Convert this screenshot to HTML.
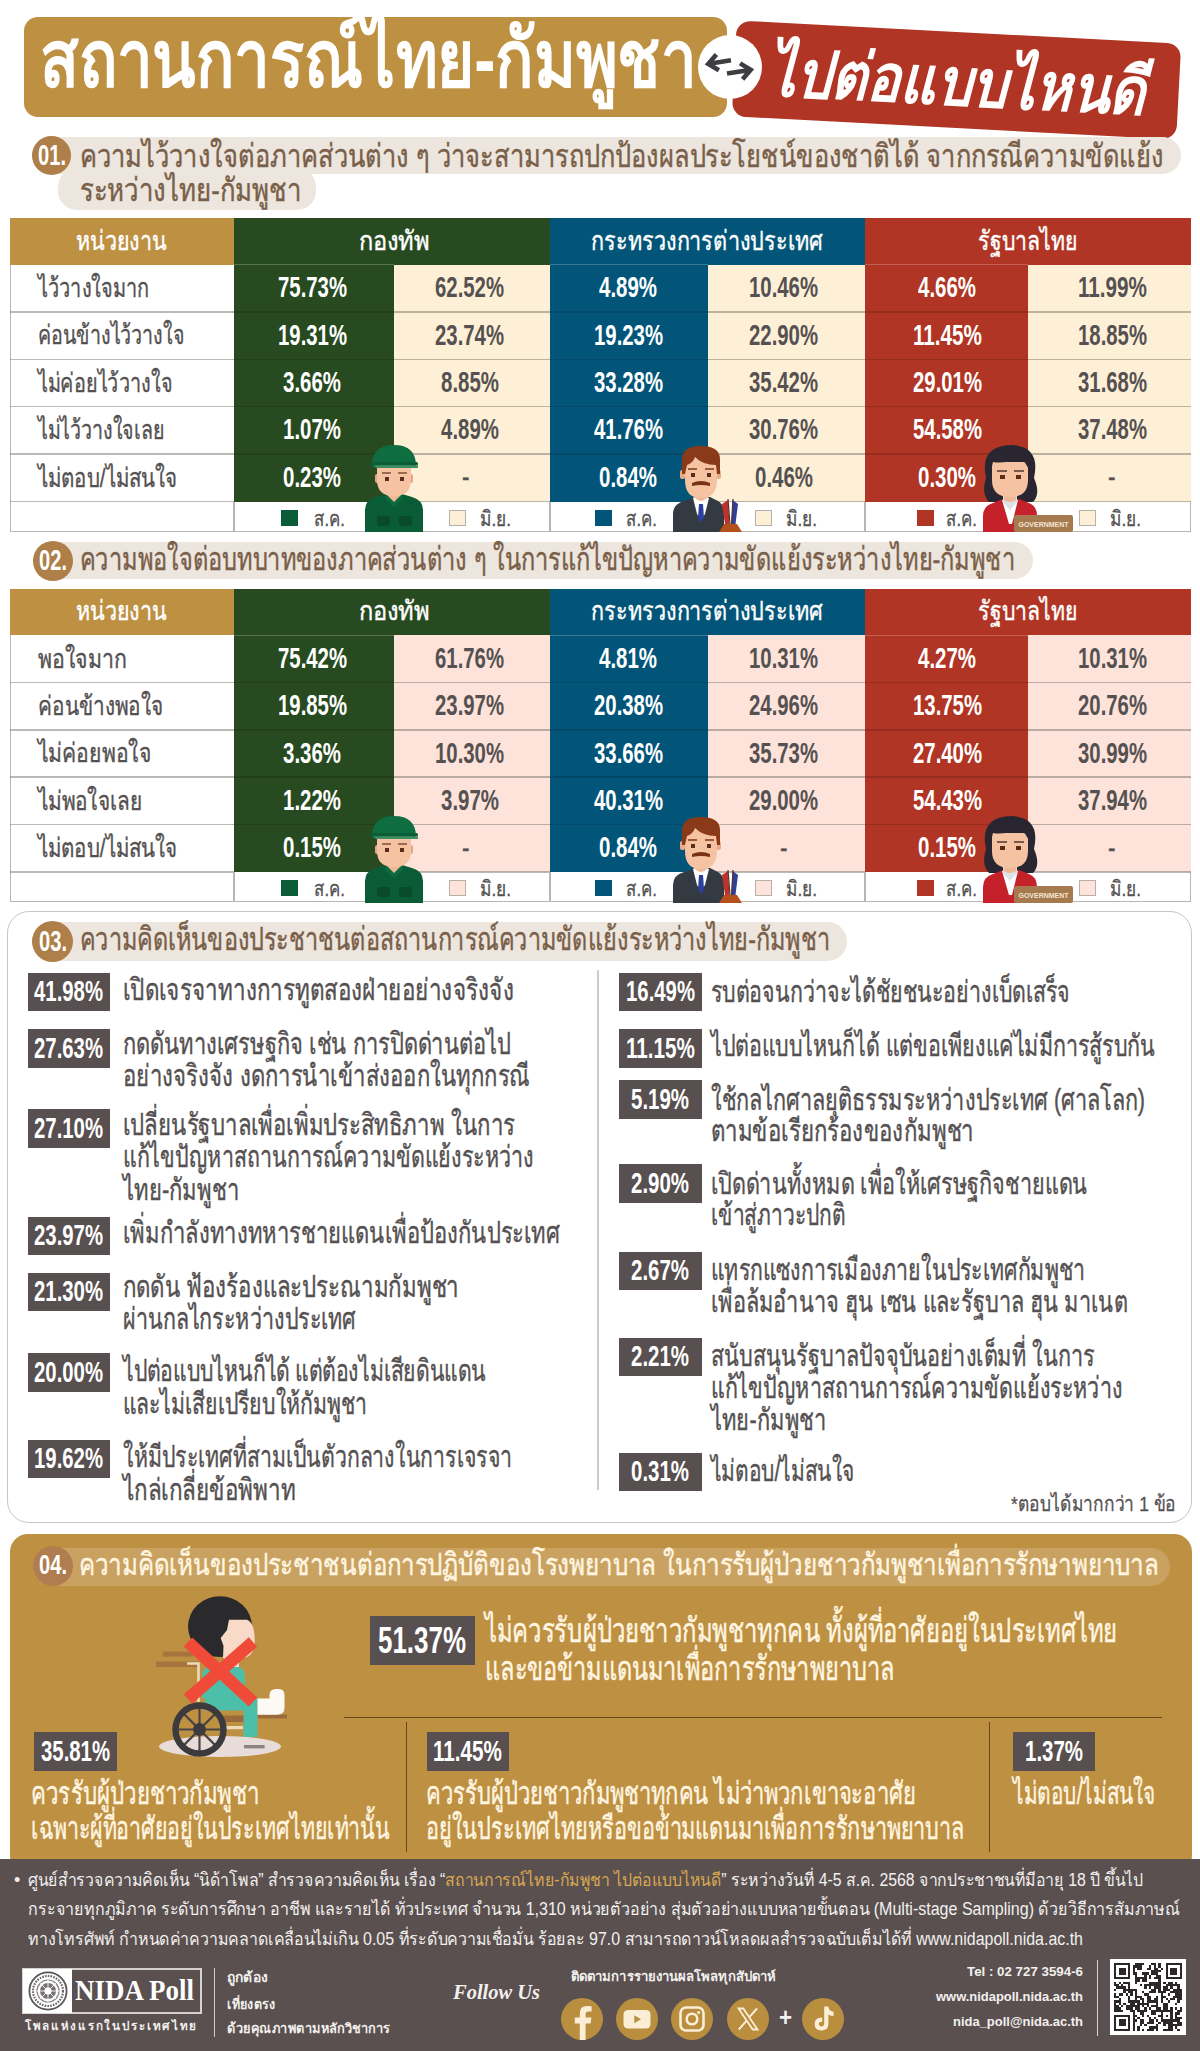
<!DOCTYPE html>
<html lang="th"><head><meta charset="utf-8"><title>NIDA Poll</title>
<style>
html,body{margin:0;padding:0;background:#fff}
#pg{position:relative;width:1200px;height:2051px;overflow:hidden;background:#fff;font-family:"Liberation Sans",sans-serif}
#pg div{position:absolute;box-sizing:border-box}
#pg .t{white-space:nowrap}
#pg .t span{display:inline-block;transform-origin:0 50%}
#pg svg{position:absolute;overflow:visible}
</style></head><body>
<div id="pg">
<div style="left:23.5px;top:16.5px;width:703px;height:100px;background:#be9042;border-radius:14px;"></div>
<div style="left:734.3px;top:32px;width:445px;height:95.7px;background:#b03524;border-radius:14px;transform:rotate(3deg);">
<div class="t" style="left:33.5px;top:10.6px;font-size:66px;line-height:79px;color:#fff;font-weight:bold;font-style:italic;"><span style="transform:scaleX(0.8401)">ไปต่อแบบไหนดี</span></div>
</div>
<div style="left:697.5px;top:35px;width:64px;height:64px;border-radius:50%;background:#fff;"></div>
<svg style="left:697.5px;top:35px" width="64" height="64" viewBox="0 0 64 64"><g fill="none" stroke="#3e3e42" stroke-width="4.6" stroke-linecap="butt" stroke-linejoin="miter" transform="rotate(-9 32 32)">
<path d="M34 25.5 H12 M20.5 17.5 L11 25.5 L20.5 33.5"/><path d="M28 38 H51 M42.5 30 L52 38 L42.5 46"/></g></svg>
<div class="t" style="left:40.0px;top:10.9px;font-size:81px;line-height:97px;color:#fff;font-weight:bold;"><span style="transform:scaleX(0.7866)">สถานการณ์ไทย-กัมพูชา</span></div>
<div style="left:58px;top:168px;width:258px;height:42px;background:#ece6de;border-radius:19px;"></div>
<div style="left:31.5px;top:137.3px;width:1149.5px;height:36.4px;background:#ece6de;border-radius:19.5px;"></div>
<div style="left:31.5px;top:136.0px;width:39.0px;height:39.0px;border-radius:50%;background:#ae7f48;"></div>
<div class="t" style="left:37.7px;top:138.2px;font-size:29px;line-height:35px;color:#fff;font-weight:bold;"><span style="transform:scaleX(0.6943)">01.</span></div>
<div class="t" style="left:80.0px;top:136.9px;font-size:32px;line-height:38px;color:#7a5f49;-webkit-text-stroke:0.45px;"><span style="transform:scaleX(0.7949)">ความไว้วางใจต่อภาคส่วนต่าง ๆ ว่าจะสามารถปกป้องผลประโยชน์ของชาติได้ จากกรณีความขัดแย้ง</span></div>
<div class="t" style="left:80.0px;top:171.2px;font-size:32px;line-height:38px;color:#7a5f49;-webkit-text-stroke:0.45px;"><span style="transform:scaleX(0.8046)">ระหว่างไทย-กัมพูชา</span></div>
<div style="left:10px;top:218px;width:1180.5px;height:313.79999999999995px;background:#fff;border:1.5px solid #b9b6b2;"></div>
<div style="left:10px;top:218px;width:224px;height:46.5px;background:#be9042;"></div>
<div style="left:234px;top:218px;width:316px;height:46.5px;background:#284a20;"></div>
<div style="left:550px;top:218px;width:315px;height:46.5px;background:#025578;"></div>
<div style="left:865px;top:218px;width:325.5px;height:46.5px;background:#b03524;"></div>
<div style="left:234px;top:264.5px;width:160px;height:237.0px;background:#284a20;"></div>
<div style="left:394px;top:264.5px;width:156px;height:237.0px;background:#fef0d6;"></div>
<div style="left:550px;top:264.5px;width:157.5px;height:237.0px;background:#025578;"></div>
<div style="left:707.5px;top:264.5px;width:157.5px;height:237.0px;background:#fef0d6;"></div>
<div style="left:865px;top:264.5px;width:162.5px;height:237.0px;background:#b03524;"></div>
<div style="left:1027.5px;top:264.5px;width:163.0px;height:237.0px;background:#fef0d6;"></div>
<div style="left:10px;top:311.15px;width:224px;height:1.5px;background:rgba(120,115,110,.5);"></div>
<div style="left:234px;top:311.15px;width:160px;height:1.5px;background:rgba(0,0,0,.14);"></div>
<div style="left:394px;top:311.15px;width:156px;height:1.5px;background:rgba(120,115,110,.5);"></div>
<div style="left:550px;top:311.15px;width:157.5px;height:1.5px;background:rgba(0,0,0,.14);"></div>
<div style="left:707.5px;top:311.15px;width:157.5px;height:1.5px;background:rgba(120,115,110,.5);"></div>
<div style="left:865px;top:311.15px;width:162.5px;height:1.5px;background:rgba(0,0,0,.14);"></div>
<div style="left:1027.5px;top:311.15px;width:163.0px;height:1.5px;background:rgba(120,115,110,.5);"></div>
<div style="left:10px;top:358.55px;width:224px;height:1.5px;background:rgba(120,115,110,.5);"></div>
<div style="left:234px;top:358.55px;width:160px;height:1.5px;background:rgba(0,0,0,.14);"></div>
<div style="left:394px;top:358.55px;width:156px;height:1.5px;background:rgba(120,115,110,.5);"></div>
<div style="left:550px;top:358.55px;width:157.5px;height:1.5px;background:rgba(0,0,0,.14);"></div>
<div style="left:707.5px;top:358.55px;width:157.5px;height:1.5px;background:rgba(120,115,110,.5);"></div>
<div style="left:865px;top:358.55px;width:162.5px;height:1.5px;background:rgba(0,0,0,.14);"></div>
<div style="left:1027.5px;top:358.55px;width:163.0px;height:1.5px;background:rgba(120,115,110,.5);"></div>
<div style="left:10px;top:405.95px;width:224px;height:1.5px;background:rgba(120,115,110,.5);"></div>
<div style="left:234px;top:405.95px;width:160px;height:1.5px;background:rgba(0,0,0,.14);"></div>
<div style="left:394px;top:405.95px;width:156px;height:1.5px;background:rgba(120,115,110,.5);"></div>
<div style="left:550px;top:405.95px;width:157.5px;height:1.5px;background:rgba(0,0,0,.14);"></div>
<div style="left:707.5px;top:405.95px;width:157.5px;height:1.5px;background:rgba(120,115,110,.5);"></div>
<div style="left:865px;top:405.95px;width:162.5px;height:1.5px;background:rgba(0,0,0,.14);"></div>
<div style="left:1027.5px;top:405.95px;width:163.0px;height:1.5px;background:rgba(120,115,110,.5);"></div>
<div style="left:10px;top:453.35px;width:224px;height:1.5px;background:rgba(120,115,110,.5);"></div>
<div style="left:234px;top:453.35px;width:160px;height:1.5px;background:rgba(0,0,0,.14);"></div>
<div style="left:394px;top:453.35px;width:156px;height:1.5px;background:rgba(120,115,110,.5);"></div>
<div style="left:550px;top:453.35px;width:157.5px;height:1.5px;background:rgba(0,0,0,.14);"></div>
<div style="left:707.5px;top:453.35px;width:157.5px;height:1.5px;background:rgba(120,115,110,.5);"></div>
<div style="left:865px;top:453.35px;width:162.5px;height:1.5px;background:rgba(0,0,0,.14);"></div>
<div style="left:1027.5px;top:453.35px;width:163.0px;height:1.5px;background:rgba(120,115,110,.5);"></div>
<div style="left:10px;top:500.75px;width:224px;height:1.5px;background:rgba(120,115,110,.5);"></div>
<div style="left:394px;top:500.75px;width:156px;height:1.5px;background:rgba(120,115,110,.5);"></div>
<div style="left:707.5px;top:500.75px;width:157.5px;height:1.5px;background:rgba(120,115,110,.5);"></div>
<div style="left:1027.5px;top:500.75px;width:163.0px;height:1.5px;background:rgba(120,115,110,.5);"></div>
<div style="left:234px;top:264.0px;width:160px;height:1.2px;background:rgba(255,255,255,.22);"></div>
<div style="left:550px;top:264.0px;width:157.5px;height:1.2px;background:rgba(255,255,255,.22);"></div>
<div style="left:865px;top:264.0px;width:162.5px;height:1.2px;background:rgba(255,255,255,.22);"></div>
<div style="left:233.25px;top:501.5px;width:1.5px;height:30.299999999999955px;background:#b9b6b2;"></div>
<div style="left:549.25px;top:501.5px;width:1.5px;height:30.299999999999955px;background:#b9b6b2;"></div>
<div style="left:864.25px;top:501.5px;width:1.5px;height:30.299999999999955px;background:#b9b6b2;"></div>
<div class="t" style="left:76.0px;top:224.6px;font-size:27px;line-height:32px;color:#fff;-webkit-text-stroke:0.38px;"><span style="transform:scaleX(0.7965)">หน่วยงาน</span></div>
<div class="t" style="left:359.0px;top:224.6px;font-size:27px;line-height:32px;color:#fff;-webkit-text-stroke:0.38px;"><span style="transform:scaleX(0.8765)">กองทัพ</span></div>
<div class="t" style="left:591.0px;top:224.6px;font-size:27px;line-height:32px;color:#fff;-webkit-text-stroke:0.38px;"><span style="transform:scaleX(0.8000)">กระทรวงการต่างประเทศ</span></div>
<div class="t" style="left:978.0px;top:224.6px;font-size:27px;line-height:32px;color:#fff;-webkit-text-stroke:0.38px;"><span style="transform:scaleX(0.7874)">รัฐบาลไทย</span></div>
<div class="t" style="left:38.0px;top:272.0px;font-size:26.5px;line-height:32px;color:#555152;-webkit-text-stroke:0.37px;"><span style="transform:scaleX(0.7534)">ไว้วางใจมาก</span></div>
<div class="t" style="left:38.0px;top:319.4px;font-size:26.5px;line-height:32px;color:#555152;-webkit-text-stroke:0.37px;"><span style="transform:scaleX(0.7399)">ค่อนข้างไว้วางใจ</span></div>
<div class="t" style="left:38.0px;top:366.8px;font-size:26.5px;line-height:32px;color:#555152;-webkit-text-stroke:0.37px;"><span style="transform:scaleX(0.7472)">ไม่ค่อยไว้วางใจ</span></div>
<div class="t" style="left:38.0px;top:414.2px;font-size:26.5px;line-height:32px;color:#555152;-webkit-text-stroke:0.37px;"><span style="transform:scaleX(0.7398)">ไม่ไว้วางใจเลย</span></div>
<div class="t" style="left:38.0px;top:461.6px;font-size:26.5px;line-height:32px;color:#555152;-webkit-text-stroke:0.37px;"><span style="transform:scaleX(0.7734)">ไม่ตอบ/ไม่สนใจ</span></div>
<div class="t" style="left:277.8px;top:270.2px;font-size:29px;line-height:35px;color:#fff;font-weight:bold;"><span style="transform:scaleX(0.7015)">75.73%</span></div>
<div class="t" style="left:435.0px;top:270.2px;font-size:29px;line-height:35px;color:#555152;font-weight:bold;"><span style="transform:scaleX(0.7015)">62.52%</span></div>
<div class="t" style="left:599.0px;top:270.2px;font-size:29px;line-height:35px;color:#fff;font-weight:bold;"><span style="transform:scaleX(0.7053)">4.89%</span></div>
<div class="t" style="left:749.0px;top:270.2px;font-size:29px;line-height:35px;color:#555152;font-weight:bold;"><span style="transform:scaleX(0.7015)">10.46%</span></div>
<div class="t" style="left:918.0px;top:270.2px;font-size:29px;line-height:35px;color:#fff;font-weight:bold;"><span style="transform:scaleX(0.7053)">4.66%</span></div>
<div class="t" style="left:1077.5px;top:270.2px;font-size:29px;line-height:35px;color:#555152;font-weight:bold;"><span style="transform:scaleX(0.7131)">11.99%</span></div>
<div class="t" style="left:277.8px;top:317.6px;font-size:29px;line-height:35px;color:#fff;font-weight:bold;"><span style="transform:scaleX(0.7015)">19.31%</span></div>
<div class="t" style="left:435.0px;top:317.6px;font-size:29px;line-height:35px;color:#555152;font-weight:bold;"><span style="transform:scaleX(0.7015)">23.74%</span></div>
<div class="t" style="left:593.5px;top:317.6px;font-size:29px;line-height:35px;color:#fff;font-weight:bold;"><span style="transform:scaleX(0.7015)">19.23%</span></div>
<div class="t" style="left:749.0px;top:317.6px;font-size:29px;line-height:35px;color:#555152;font-weight:bold;"><span style="transform:scaleX(0.7015)">22.90%</span></div>
<div class="t" style="left:912.5px;top:317.6px;font-size:29px;line-height:35px;color:#fff;font-weight:bold;"><span style="transform:scaleX(0.7131)">11.45%</span></div>
<div class="t" style="left:1077.5px;top:317.6px;font-size:29px;line-height:35px;color:#555152;font-weight:bold;"><span style="transform:scaleX(0.7015)">18.85%</span></div>
<div class="t" style="left:283.3px;top:365.0px;font-size:29px;line-height:35px;color:#fff;font-weight:bold;"><span style="transform:scaleX(0.7053)">3.66%</span></div>
<div class="t" style="left:440.5px;top:365.0px;font-size:29px;line-height:35px;color:#555152;font-weight:bold;"><span style="transform:scaleX(0.7053)">8.85%</span></div>
<div class="t" style="left:593.5px;top:365.0px;font-size:29px;line-height:35px;color:#fff;font-weight:bold;"><span style="transform:scaleX(0.7015)">33.28%</span></div>
<div class="t" style="left:749.0px;top:365.0px;font-size:29px;line-height:35px;color:#555152;font-weight:bold;"><span style="transform:scaleX(0.7015)">35.42%</span></div>
<div class="t" style="left:912.5px;top:365.0px;font-size:29px;line-height:35px;color:#fff;font-weight:bold;"><span style="transform:scaleX(0.7015)">29.01%</span></div>
<div class="t" style="left:1077.5px;top:365.0px;font-size:29px;line-height:35px;color:#555152;font-weight:bold;"><span style="transform:scaleX(0.7015)">31.68%</span></div>
<div class="t" style="left:283.3px;top:412.4px;font-size:29px;line-height:35px;color:#fff;font-weight:bold;"><span style="transform:scaleX(0.7053)">1.07%</span></div>
<div class="t" style="left:440.5px;top:412.4px;font-size:29px;line-height:35px;color:#555152;font-weight:bold;"><span style="transform:scaleX(0.7053)">4.89%</span></div>
<div class="t" style="left:593.5px;top:412.4px;font-size:29px;line-height:35px;color:#fff;font-weight:bold;"><span style="transform:scaleX(0.7015)">41.76%</span></div>
<div class="t" style="left:749.0px;top:412.4px;font-size:29px;line-height:35px;color:#555152;font-weight:bold;"><span style="transform:scaleX(0.7015)">30.76%</span></div>
<div class="t" style="left:912.5px;top:412.4px;font-size:29px;line-height:35px;color:#fff;font-weight:bold;"><span style="transform:scaleX(0.7015)">54.58%</span></div>
<div class="t" style="left:1077.5px;top:412.4px;font-size:29px;line-height:35px;color:#555152;font-weight:bold;"><span style="transform:scaleX(0.7015)">37.48%</span></div>
<div class="t" style="left:283.3px;top:459.8px;font-size:29px;line-height:35px;color:#fff;font-weight:bold;"><span style="transform:scaleX(0.7053)">0.23%</span></div>
<div class="t" style="left:462.2px;top:460.4px;font-size:28px;line-height:34px;color:#555152;-webkit-text-stroke:0.39px;"><span style="transform:scaleX(0.8040)">-</span></div>
<div class="t" style="left:599.0px;top:459.8px;font-size:29px;line-height:35px;color:#fff;font-weight:bold;"><span style="transform:scaleX(0.7053)">0.84%</span></div>
<div class="t" style="left:754.5px;top:459.8px;font-size:29px;line-height:35px;color:#555152;font-weight:bold;"><span style="transform:scaleX(0.7053)">0.46%</span></div>
<div class="t" style="left:918.0px;top:459.8px;font-size:29px;line-height:35px;color:#fff;font-weight:bold;"><span style="transform:scaleX(0.7053)">0.30%</span></div>
<div class="t" style="left:1108.2px;top:460.4px;font-size:28px;line-height:34px;color:#555152;-webkit-text-stroke:0.39px;"><span style="transform:scaleX(0.8040)">-</span></div>
<div style="left:281px;top:509.8px;width:17px;height:16px;background:#0a5c36;"></div>
<div class="t" style="left:314.0px;top:505.7px;font-size:21px;line-height:25px;color:#555152;-webkit-text-stroke:0.29px;"><span style="transform:scaleX(0.8016)">ส.ค.</span></div>
<div style="left:595px;top:509.8px;width:17px;height:16px;background:#025578;"></div>
<div class="t" style="left:625.5px;top:505.7px;font-size:21px;line-height:25px;color:#555152;-webkit-text-stroke:0.29px;"><span style="transform:scaleX(0.8016)">ส.ค.</span></div>
<div style="left:917px;top:509.8px;width:17px;height:16px;background:#b03524;"></div>
<div class="t" style="left:946.0px;top:505.7px;font-size:21px;line-height:25px;color:#555152;-webkit-text-stroke:0.29px;"><span style="transform:scaleX(0.8016)">ส.ค.</span></div>
<div style="left:449px;top:509.8px;width:17px;height:16px;background:#fef0d6;border:1.5px solid #b5b1aa;"></div>
<div class="t" style="left:480.0px;top:505.7px;font-size:21px;line-height:25px;color:#555152;-webkit-text-stroke:0.29px;"><span style="transform:scaleX(0.8229)">มิ.ย.</span></div>
<div style="left:755px;top:509.8px;width:17px;height:16px;background:#fef0d6;border:1.5px solid #b5b1aa;"></div>
<div class="t" style="left:786.0px;top:505.7px;font-size:21px;line-height:25px;color:#555152;-webkit-text-stroke:0.29px;"><span style="transform:scaleX(0.8229)">มิ.ย.</span></div>
<div style="left:1079px;top:509.8px;width:17px;height:16px;background:#fef0d6;border:1.5px solid #b5b1aa;"></div>
<div class="t" style="left:1110.0px;top:505.7px;font-size:21px;line-height:25px;color:#555152;-webkit-text-stroke:0.29px;"><span style="transform:scaleX(0.8229)">มิ.ย.</span></div>
<svg style="left:362px;top:444.29999999999995px" width="64" height="88" viewBox="0 0 64 88">
<path d="M3 88 V66 Q3 56 14 53 L24 50 H40 L50 53 Q61 56 61 66 V88 Z" fill="#0a5c36"/>
<path d="M25 48 H39 V56 Q32 62 25 56 Z" fill="#f0b995"/><path d="M24 50 L32 58 L40 50 L41 55 L32 63 L23 55Z" fill="#0c6a3e"/>
<rect x="13" y="45" width="5" height="9" rx="2" fill="#e3a782" transform="translate(0,-15)"/><rect x="46" y="30" width="5" height="9" rx="2" fill="#e3a782"/>
<path d="M15 22 H49 V36 Q49 52 32 52 Q15 52 15 36 Z" fill="#f5c3a2"/>
<path d="M10 22 Q10 1 32 1 Q54 1 54 22 L54 23 H10 Z" fill="#0e6e40"/><rect x="8" y="18" width="48" height="3.2" rx="1.5" fill="#0b5d36"/><path d="M12 21.2 H56 L56 24 H14 Z" fill="#3f8d63"/>
<rect x="23" y="33" width="4" height="4" fill="#5a2d1c"/><rect x="38" y="33" width="4" height="4" fill="#5a2d1c"/>
<rect x="20" y="28" width="9" height="2" fill="#9a6a52"/><rect x="36" y="28" width="9" height="2" fill="#9a6a52"/>
<rect x="15" y="72" width="13" height="10" rx="3" fill="#084a2b"/><rect x="37" y="72" width="13" height="10" rx="3" fill="#084a2b"/>
</svg>
<svg style="left:672px;top:444.29999999999995px" width="72" height="88" viewBox="0 0 72 88">
<path d="M1 88 V70 Q1 60 12 57 L24 53 H38 L46 57 Q52 60 52 70 V88 Z" fill="#343a42"/>
<path d="M21 54 L29 50 L37 54 L33 70 L29 76 L25 70 Z" fill="#fff"/><path d="M27 60 H31 L32 74 L29 79 L26 74 Z" fill="#2b3f9c"/>
<path d="M23 44 H35 V54 Q29 60 23 54 Z" fill="#f0b995"/>
<rect x="8" y="26" width="5" height="9" rx="2" fill="#e8ad88"/><rect x="44" y="26" width="5" height="9" rx="2" fill="#e8ad88"/>
<path d="M13 10 H45 V36 Q45 54 29 54 Q13 54 13 36 Z" fill="#f5c3a2"/>
<path d="M10 30 V16 Q10 2 28 2 Q48 2 48 15 V30 L45 30 L44 21 Q31 21 23 13 Q21 19 15 21 L13 30 Z" fill="#8a3a18"/>
<rect x="19" y="29" width="4" height="4" fill="#5a2d1c"/><rect x="35" y="29" width="4" height="4" fill="#5a2d1c"/>
<rect x="16" y="24" width="9" height="2" fill="#9a5a3a"/><rect x="33" y="24" width="9" height="2" fill="#9a5a3a"/>
<path d="M20 39 Q29 35 38 39 L38 42 Q29 40 20 42 Z" fill="#7a3216"/>
<path d="M50 60 L56 56 L57.5 80 H53 Z" fill="#c0302c"/><path d="M60.5 56 L66 60 L63.5 80 H59.5 Z" fill="#2f3f9a"/><path d="M56 55 L58 80 M61 55 L59.5 80" stroke="#55372a" stroke-width="1.2"/>
<path d="M47 88 L52 80 H65 L70 88 Z" fill="#b4501c"/>
</svg>
<svg style="left:981px;top:444.29999999999995px" width="94" height="88" viewBox="0 0 94 88">
<path d="M5 34 Q-2 2 30 1 Q60 2 53 34 Q60 50 52 58 H8 Q0 50 5 34 Z" fill="#2a2631"/>
<path d="M2 88 V72 Q2 62 12 59 L22 55 H38 L48 59 Q56 62 56 72 V88 Z" fill="#c4212b"/>
<path d="M21 56 H37 L31 80 H28 Z" fill="#fff"/><path d="M22 52 H36 V58 L29 66 L22 58Z" fill="#dfe0e4"/>
<path d="M23 46 H35 V56 Q29 60 23 56 Z" fill="#f0b995"/>
<path d="M11 18 H47 V36 Q47 53 29 53 Q11 53 11 36 Z" fill="#f5c3a2"/>
<path d="M9 30 Q6 6 29 6 Q52 6 49 30 Q46 16 36 14 Q24 20 12 18 Z" fill="#2a2631"/>
<rect x="19" y="31" width="5" height="4" fill="#5a2d1c"/><rect x="35" y="31" width="5" height="4" fill="#5a2d1c"/>
<rect x="16" y="26" width="10" height="2" fill="#7a5a4a"/><rect x="33" y="26" width="10" height="2" fill="#7a5a4a"/>
<rect x="33" y="71" width="59" height="17" rx="2" fill="#a57a4f"/>
<text x="62.5" y="83" font-family="Liberation Sans, sans-serif" font-weight="bold" font-size="6.5" fill="#f4e6d2" text-anchor="middle" textLength="50" lengthAdjust="spacingAndGlyphs">GOVERNMENT</text>
</svg>
<div style="left:32.5px;top:541.8px;width:1000.5px;height:37.4px;background:#ece6de;border-radius:20px;"></div>
<div style="left:32.5px;top:540.5px;width:40px;height:40px;border-radius:50%;background:#ae7f48;"></div>
<div class="t" style="left:39.2px;top:543.2px;font-size:29px;line-height:35px;color:#fff;font-weight:bold;"><span style="transform:scaleX(0.6943)">02.</span></div>
<div class="t" style="left:80.0px;top:540.4px;font-size:32px;line-height:38px;color:#7a5f49;-webkit-text-stroke:0.45px;"><span style="transform:scaleX(0.7377)">ความพอใจต่อบทบาทของภาคส่วนต่าง ๆ ในการแก้ไขปัญหาความขัดแย้งระหว่างไทย-กัมพูชา</span></div>
<div style="left:10px;top:588.5px;width:1180.5px;height:313.79999999999995px;background:#fff;border:1.5px solid #b9b6b2;"></div>
<div style="left:10px;top:588.5px;width:224px;height:46.5px;background:#be9042;"></div>
<div style="left:234px;top:588.5px;width:316px;height:46.5px;background:#284a20;"></div>
<div style="left:550px;top:588.5px;width:315px;height:46.5px;background:#025578;"></div>
<div style="left:865px;top:588.5px;width:325.5px;height:46.5px;background:#b03524;"></div>
<div style="left:234px;top:635.0px;width:160px;height:237.0px;background:#284a20;"></div>
<div style="left:394px;top:635.0px;width:156px;height:237.0px;background:#fde3d9;"></div>
<div style="left:550px;top:635.0px;width:157.5px;height:237.0px;background:#025578;"></div>
<div style="left:707.5px;top:635.0px;width:157.5px;height:237.0px;background:#fde3d9;"></div>
<div style="left:865px;top:635.0px;width:162.5px;height:237.0px;background:#b03524;"></div>
<div style="left:1027.5px;top:635.0px;width:163.0px;height:237.0px;background:#fde3d9;"></div>
<div style="left:10px;top:681.65px;width:224px;height:1.5px;background:rgba(120,115,110,.5);"></div>
<div style="left:234px;top:681.65px;width:160px;height:1.5px;background:rgba(0,0,0,.14);"></div>
<div style="left:394px;top:681.65px;width:156px;height:1.5px;background:rgba(120,115,110,.5);"></div>
<div style="left:550px;top:681.65px;width:157.5px;height:1.5px;background:rgba(0,0,0,.14);"></div>
<div style="left:707.5px;top:681.65px;width:157.5px;height:1.5px;background:rgba(120,115,110,.5);"></div>
<div style="left:865px;top:681.65px;width:162.5px;height:1.5px;background:rgba(0,0,0,.14);"></div>
<div style="left:1027.5px;top:681.65px;width:163.0px;height:1.5px;background:rgba(120,115,110,.5);"></div>
<div style="left:10px;top:729.05px;width:224px;height:1.5px;background:rgba(120,115,110,.5);"></div>
<div style="left:234px;top:729.05px;width:160px;height:1.5px;background:rgba(0,0,0,.14);"></div>
<div style="left:394px;top:729.05px;width:156px;height:1.5px;background:rgba(120,115,110,.5);"></div>
<div style="left:550px;top:729.05px;width:157.5px;height:1.5px;background:rgba(0,0,0,.14);"></div>
<div style="left:707.5px;top:729.05px;width:157.5px;height:1.5px;background:rgba(120,115,110,.5);"></div>
<div style="left:865px;top:729.05px;width:162.5px;height:1.5px;background:rgba(0,0,0,.14);"></div>
<div style="left:1027.5px;top:729.05px;width:163.0px;height:1.5px;background:rgba(120,115,110,.5);"></div>
<div style="left:10px;top:776.45px;width:224px;height:1.5px;background:rgba(120,115,110,.5);"></div>
<div style="left:234px;top:776.45px;width:160px;height:1.5px;background:rgba(0,0,0,.14);"></div>
<div style="left:394px;top:776.45px;width:156px;height:1.5px;background:rgba(120,115,110,.5);"></div>
<div style="left:550px;top:776.45px;width:157.5px;height:1.5px;background:rgba(0,0,0,.14);"></div>
<div style="left:707.5px;top:776.45px;width:157.5px;height:1.5px;background:rgba(120,115,110,.5);"></div>
<div style="left:865px;top:776.45px;width:162.5px;height:1.5px;background:rgba(0,0,0,.14);"></div>
<div style="left:1027.5px;top:776.45px;width:163.0px;height:1.5px;background:rgba(120,115,110,.5);"></div>
<div style="left:10px;top:823.85px;width:224px;height:1.5px;background:rgba(120,115,110,.5);"></div>
<div style="left:234px;top:823.85px;width:160px;height:1.5px;background:rgba(0,0,0,.14);"></div>
<div style="left:394px;top:823.85px;width:156px;height:1.5px;background:rgba(120,115,110,.5);"></div>
<div style="left:550px;top:823.85px;width:157.5px;height:1.5px;background:rgba(0,0,0,.14);"></div>
<div style="left:707.5px;top:823.85px;width:157.5px;height:1.5px;background:rgba(120,115,110,.5);"></div>
<div style="left:865px;top:823.85px;width:162.5px;height:1.5px;background:rgba(0,0,0,.14);"></div>
<div style="left:1027.5px;top:823.85px;width:163.0px;height:1.5px;background:rgba(120,115,110,.5);"></div>
<div style="left:10px;top:871.25px;width:224px;height:1.5px;background:rgba(120,115,110,.5);"></div>
<div style="left:394px;top:871.25px;width:156px;height:1.5px;background:rgba(120,115,110,.5);"></div>
<div style="left:707.5px;top:871.25px;width:157.5px;height:1.5px;background:rgba(120,115,110,.5);"></div>
<div style="left:1027.5px;top:871.25px;width:163.0px;height:1.5px;background:rgba(120,115,110,.5);"></div>
<div style="left:234px;top:634.5px;width:160px;height:1.2px;background:rgba(255,255,255,.22);"></div>
<div style="left:550px;top:634.5px;width:157.5px;height:1.2px;background:rgba(255,255,255,.22);"></div>
<div style="left:865px;top:634.5px;width:162.5px;height:1.2px;background:rgba(255,255,255,.22);"></div>
<div style="left:233.25px;top:872.0px;width:1.5px;height:30.299999999999955px;background:#b9b6b2;"></div>
<div style="left:549.25px;top:872.0px;width:1.5px;height:30.299999999999955px;background:#b9b6b2;"></div>
<div style="left:864.25px;top:872.0px;width:1.5px;height:30.299999999999955px;background:#b9b6b2;"></div>
<div class="t" style="left:76.0px;top:595.1px;font-size:27px;line-height:32px;color:#fff;-webkit-text-stroke:0.38px;"><span style="transform:scaleX(0.7965)">หน่วยงาน</span></div>
<div class="t" style="left:359.0px;top:595.1px;font-size:27px;line-height:32px;color:#fff;-webkit-text-stroke:0.38px;"><span style="transform:scaleX(0.8765)">กองทัพ</span></div>
<div class="t" style="left:591.0px;top:595.1px;font-size:27px;line-height:32px;color:#fff;-webkit-text-stroke:0.38px;"><span style="transform:scaleX(0.8000)">กระทรวงการต่างประเทศ</span></div>
<div class="t" style="left:978.0px;top:595.1px;font-size:27px;line-height:32px;color:#fff;-webkit-text-stroke:0.38px;"><span style="transform:scaleX(0.7874)">รัฐบาลไทย</span></div>
<div class="t" style="left:38.0px;top:642.5px;font-size:26.5px;line-height:32px;color:#555152;-webkit-text-stroke:0.37px;"><span style="transform:scaleX(0.8045)">พอใจมาก</span></div>
<div class="t" style="left:38.0px;top:689.9px;font-size:26.5px;line-height:32px;color:#555152;-webkit-text-stroke:0.37px;"><span style="transform:scaleX(0.7844)">ค่อนข้างพอใจ</span></div>
<div class="t" style="left:38.0px;top:737.3px;font-size:26.5px;line-height:32px;color:#555152;-webkit-text-stroke:0.37px;"><span style="transform:scaleX(0.7993)">ไม่ค่อยพอใจ</span></div>
<div class="t" style="left:38.0px;top:784.7px;font-size:26.5px;line-height:32px;color:#555152;-webkit-text-stroke:0.37px;"><span style="transform:scaleX(0.7857)">ไม่พอใจเลย</span></div>
<div class="t" style="left:38.0px;top:832.1px;font-size:26.5px;line-height:32px;color:#555152;-webkit-text-stroke:0.37px;"><span style="transform:scaleX(0.7734)">ไม่ตอบ/ไม่สนใจ</span></div>
<div class="t" style="left:277.8px;top:640.7px;font-size:29px;line-height:35px;color:#fff;font-weight:bold;"><span style="transform:scaleX(0.7015)">75.42%</span></div>
<div class="t" style="left:435.0px;top:640.7px;font-size:29px;line-height:35px;color:#555152;font-weight:bold;"><span style="transform:scaleX(0.7015)">61.76%</span></div>
<div class="t" style="left:599.0px;top:640.7px;font-size:29px;line-height:35px;color:#fff;font-weight:bold;"><span style="transform:scaleX(0.7053)">4.81%</span></div>
<div class="t" style="left:749.0px;top:640.7px;font-size:29px;line-height:35px;color:#555152;font-weight:bold;"><span style="transform:scaleX(0.7015)">10.31%</span></div>
<div class="t" style="left:918.0px;top:640.7px;font-size:29px;line-height:35px;color:#fff;font-weight:bold;"><span style="transform:scaleX(0.7053)">4.27%</span></div>
<div class="t" style="left:1077.5px;top:640.7px;font-size:29px;line-height:35px;color:#555152;font-weight:bold;"><span style="transform:scaleX(0.7015)">10.31%</span></div>
<div class="t" style="left:277.8px;top:688.1px;font-size:29px;line-height:35px;color:#fff;font-weight:bold;"><span style="transform:scaleX(0.7015)">19.85%</span></div>
<div class="t" style="left:435.0px;top:688.1px;font-size:29px;line-height:35px;color:#555152;font-weight:bold;"><span style="transform:scaleX(0.7015)">23.97%</span></div>
<div class="t" style="left:593.5px;top:688.1px;font-size:29px;line-height:35px;color:#fff;font-weight:bold;"><span style="transform:scaleX(0.7015)">20.38%</span></div>
<div class="t" style="left:749.0px;top:688.1px;font-size:29px;line-height:35px;color:#555152;font-weight:bold;"><span style="transform:scaleX(0.7015)">24.96%</span></div>
<div class="t" style="left:912.5px;top:688.1px;font-size:29px;line-height:35px;color:#fff;font-weight:bold;"><span style="transform:scaleX(0.7015)">13.75%</span></div>
<div class="t" style="left:1077.5px;top:688.1px;font-size:29px;line-height:35px;color:#555152;font-weight:bold;"><span style="transform:scaleX(0.7015)">20.76%</span></div>
<div class="t" style="left:283.3px;top:735.5px;font-size:29px;line-height:35px;color:#fff;font-weight:bold;"><span style="transform:scaleX(0.7053)">3.36%</span></div>
<div class="t" style="left:435.0px;top:735.5px;font-size:29px;line-height:35px;color:#555152;font-weight:bold;"><span style="transform:scaleX(0.7015)">10.30%</span></div>
<div class="t" style="left:593.5px;top:735.5px;font-size:29px;line-height:35px;color:#fff;font-weight:bold;"><span style="transform:scaleX(0.7015)">33.66%</span></div>
<div class="t" style="left:749.0px;top:735.5px;font-size:29px;line-height:35px;color:#555152;font-weight:bold;"><span style="transform:scaleX(0.7015)">35.73%</span></div>
<div class="t" style="left:912.5px;top:735.5px;font-size:29px;line-height:35px;color:#fff;font-weight:bold;"><span style="transform:scaleX(0.7015)">27.40%</span></div>
<div class="t" style="left:1077.5px;top:735.5px;font-size:29px;line-height:35px;color:#555152;font-weight:bold;"><span style="transform:scaleX(0.7015)">30.99%</span></div>
<div class="t" style="left:283.3px;top:782.9px;font-size:29px;line-height:35px;color:#fff;font-weight:bold;"><span style="transform:scaleX(0.7053)">1.22%</span></div>
<div class="t" style="left:440.5px;top:782.9px;font-size:29px;line-height:35px;color:#555152;font-weight:bold;"><span style="transform:scaleX(0.7053)">3.97%</span></div>
<div class="t" style="left:593.5px;top:782.9px;font-size:29px;line-height:35px;color:#fff;font-weight:bold;"><span style="transform:scaleX(0.7015)">40.31%</span></div>
<div class="t" style="left:749.0px;top:782.9px;font-size:29px;line-height:35px;color:#555152;font-weight:bold;"><span style="transform:scaleX(0.7015)">29.00%</span></div>
<div class="t" style="left:912.5px;top:782.9px;font-size:29px;line-height:35px;color:#fff;font-weight:bold;"><span style="transform:scaleX(0.7015)">54.43%</span></div>
<div class="t" style="left:1077.5px;top:782.9px;font-size:29px;line-height:35px;color:#555152;font-weight:bold;"><span style="transform:scaleX(0.7015)">37.94%</span></div>
<div class="t" style="left:283.3px;top:830.3px;font-size:29px;line-height:35px;color:#fff;font-weight:bold;"><span style="transform:scaleX(0.7053)">0.15%</span></div>
<div class="t" style="left:462.2px;top:830.9px;font-size:28px;line-height:34px;color:#555152;-webkit-text-stroke:0.39px;"><span style="transform:scaleX(0.8040)">-</span></div>
<div class="t" style="left:599.0px;top:830.3px;font-size:29px;line-height:35px;color:#fff;font-weight:bold;"><span style="transform:scaleX(0.7053)">0.84%</span></div>
<div class="t" style="left:779.8px;top:830.9px;font-size:28px;line-height:34px;color:#555152;-webkit-text-stroke:0.39px;"><span style="transform:scaleX(0.8040)">-</span></div>
<div class="t" style="left:918.0px;top:830.3px;font-size:29px;line-height:35px;color:#fff;font-weight:bold;"><span style="transform:scaleX(0.7053)">0.15%</span></div>
<div class="t" style="left:1108.2px;top:830.9px;font-size:28px;line-height:34px;color:#555152;-webkit-text-stroke:0.39px;"><span style="transform:scaleX(0.8040)">-</span></div>
<div style="left:281px;top:880.3px;width:17px;height:16px;background:#0a5c36;"></div>
<div class="t" style="left:314.0px;top:876.2px;font-size:21px;line-height:25px;color:#555152;-webkit-text-stroke:0.29px;"><span style="transform:scaleX(0.8016)">ส.ค.</span></div>
<div style="left:595px;top:880.3px;width:17px;height:16px;background:#025578;"></div>
<div class="t" style="left:625.5px;top:876.2px;font-size:21px;line-height:25px;color:#555152;-webkit-text-stroke:0.29px;"><span style="transform:scaleX(0.8016)">ส.ค.</span></div>
<div style="left:917px;top:880.3px;width:17px;height:16px;background:#b03524;"></div>
<div class="t" style="left:946.0px;top:876.2px;font-size:21px;line-height:25px;color:#555152;-webkit-text-stroke:0.29px;"><span style="transform:scaleX(0.8016)">ส.ค.</span></div>
<div style="left:449px;top:880.3px;width:17px;height:16px;background:#fde3d9;border:1.5px solid #b5b1aa;"></div>
<div class="t" style="left:480.0px;top:876.2px;font-size:21px;line-height:25px;color:#555152;-webkit-text-stroke:0.29px;"><span style="transform:scaleX(0.8229)">มิ.ย.</span></div>
<div style="left:755px;top:880.3px;width:17px;height:16px;background:#fde3d9;border:1.5px solid #b5b1aa;"></div>
<div class="t" style="left:786.0px;top:876.2px;font-size:21px;line-height:25px;color:#555152;-webkit-text-stroke:0.29px;"><span style="transform:scaleX(0.8229)">มิ.ย.</span></div>
<div style="left:1079px;top:880.3px;width:17px;height:16px;background:#fde3d9;border:1.5px solid #b5b1aa;"></div>
<div class="t" style="left:1110.0px;top:876.2px;font-size:21px;line-height:25px;color:#555152;-webkit-text-stroke:0.29px;"><span style="transform:scaleX(0.8229)">มิ.ย.</span></div>
<svg style="left:362px;top:814.8px" width="64" height="88" viewBox="0 0 64 88">
<path d="M3 88 V66 Q3 56 14 53 L24 50 H40 L50 53 Q61 56 61 66 V88 Z" fill="#0a5c36"/>
<path d="M25 48 H39 V56 Q32 62 25 56 Z" fill="#f0b995"/><path d="M24 50 L32 58 L40 50 L41 55 L32 63 L23 55Z" fill="#0c6a3e"/>
<rect x="13" y="45" width="5" height="9" rx="2" fill="#e3a782" transform="translate(0,-15)"/><rect x="46" y="30" width="5" height="9" rx="2" fill="#e3a782"/>
<path d="M15 22 H49 V36 Q49 52 32 52 Q15 52 15 36 Z" fill="#f5c3a2"/>
<path d="M10 22 Q10 1 32 1 Q54 1 54 22 L54 23 H10 Z" fill="#0e6e40"/><rect x="8" y="18" width="48" height="3.2" rx="1.5" fill="#0b5d36"/><path d="M12 21.2 H56 L56 24 H14 Z" fill="#3f8d63"/>
<rect x="23" y="33" width="4" height="4" fill="#5a2d1c"/><rect x="38" y="33" width="4" height="4" fill="#5a2d1c"/>
<rect x="20" y="28" width="9" height="2" fill="#9a6a52"/><rect x="36" y="28" width="9" height="2" fill="#9a6a52"/>
<rect x="15" y="72" width="13" height="10" rx="3" fill="#084a2b"/><rect x="37" y="72" width="13" height="10" rx="3" fill="#084a2b"/>
</svg>
<svg style="left:672px;top:814.8px" width="72" height="88" viewBox="0 0 72 88">
<path d="M1 88 V70 Q1 60 12 57 L24 53 H38 L46 57 Q52 60 52 70 V88 Z" fill="#343a42"/>
<path d="M21 54 L29 50 L37 54 L33 70 L29 76 L25 70 Z" fill="#fff"/><path d="M27 60 H31 L32 74 L29 79 L26 74 Z" fill="#2b3f9c"/>
<path d="M23 44 H35 V54 Q29 60 23 54 Z" fill="#f0b995"/>
<rect x="8" y="26" width="5" height="9" rx="2" fill="#e8ad88"/><rect x="44" y="26" width="5" height="9" rx="2" fill="#e8ad88"/>
<path d="M13 10 H45 V36 Q45 54 29 54 Q13 54 13 36 Z" fill="#f5c3a2"/>
<path d="M10 30 V16 Q10 2 28 2 Q48 2 48 15 V30 L45 30 L44 21 Q31 21 23 13 Q21 19 15 21 L13 30 Z" fill="#8a3a18"/>
<rect x="19" y="29" width="4" height="4" fill="#5a2d1c"/><rect x="35" y="29" width="4" height="4" fill="#5a2d1c"/>
<rect x="16" y="24" width="9" height="2" fill="#9a5a3a"/><rect x="33" y="24" width="9" height="2" fill="#9a5a3a"/>
<path d="M20 39 Q29 35 38 39 L38 42 Q29 40 20 42 Z" fill="#7a3216"/>
<path d="M50 60 L56 56 L57.5 80 H53 Z" fill="#c0302c"/><path d="M60.5 56 L66 60 L63.5 80 H59.5 Z" fill="#2f3f9a"/><path d="M56 55 L58 80 M61 55 L59.5 80" stroke="#55372a" stroke-width="1.2"/>
<path d="M47 88 L52 80 H65 L70 88 Z" fill="#b4501c"/>
</svg>
<svg style="left:981px;top:814.8px" width="94" height="88" viewBox="0 0 94 88">
<path d="M5 34 Q-2 2 30 1 Q60 2 53 34 Q60 50 52 58 H8 Q0 50 5 34 Z" fill="#2a2631"/>
<path d="M2 88 V72 Q2 62 12 59 L22 55 H38 L48 59 Q56 62 56 72 V88 Z" fill="#c4212b"/>
<path d="M21 56 H37 L31 80 H28 Z" fill="#fff"/><path d="M22 52 H36 V58 L29 66 L22 58Z" fill="#dfe0e4"/>
<path d="M23 46 H35 V56 Q29 60 23 56 Z" fill="#f0b995"/>
<path d="M11 18 H47 V36 Q47 53 29 53 Q11 53 11 36 Z" fill="#f5c3a2"/>
<path d="M9 30 Q6 6 29 6 Q52 6 49 30 Q46 16 36 14 Q24 20 12 18 Z" fill="#2a2631"/>
<rect x="19" y="31" width="5" height="4" fill="#5a2d1c"/><rect x="35" y="31" width="5" height="4" fill="#5a2d1c"/>
<rect x="16" y="26" width="10" height="2" fill="#7a5a4a"/><rect x="33" y="26" width="10" height="2" fill="#7a5a4a"/>
<rect x="33" y="71" width="59" height="17" rx="2" fill="#a57a4f"/>
<text x="62.5" y="83" font-family="Liberation Sans, sans-serif" font-weight="bold" font-size="6.5" fill="#f4e6d2" text-anchor="middle" textLength="50" lengthAdjust="spacingAndGlyphs">GOVERNMENT</text>
</svg>
<div style="left:7px;top:911px;width:1185px;height:612px;background:#fff;border:1.5px solid #c9c6c2;border-radius:22px;"></div>
<div style="left:32px;top:922.3px;width:815px;height:38.4px;background:#ece6de;border-radius:20.5px;"></div>
<div style="left:32px;top:921.0px;width:41.0px;height:41.0px;border-radius:50%;background:#ae7f48;"></div>
<div class="t" style="left:39.2px;top:924.2px;font-size:29px;line-height:35px;color:#fff;font-weight:bold;"><span style="transform:scaleX(0.6943)">03.</span></div>
<div class="t" style="left:80.0px;top:920.4px;font-size:32px;line-height:38px;color:#7a5f49;-webkit-text-stroke:0.45px;"><span style="transform:scaleX(0.7327)">ความคิดเห็นของประชาชนต่อสถานการณ์ความขัดแย้งระหว่างไทย-กัมพูชา</span></div>
<div style="left:597px;top:970px;width:1.5px;height:520px;background:#cfccc8;"></div>
<div style="left:27.5px;top:972.5px;width:82.5px;height:38.5px;background:#584f50;"></div>
<div class="t" style="left:34.2px;top:974.3px;font-size:29px;line-height:35px;color:#fff;font-weight:bold;"><span style="transform:scaleX(0.7015)">41.98%</span></div>
<div class="t" style="left:123.0px;top:972.1px;font-size:30px;line-height:36px;color:#555152;-webkit-text-stroke:0.42px;"><span style="transform:scaleX(0.7476)">เปิดเจรจาทางการทูตสองฝ่ายอย่างจริงจัง</span></div>
<div style="left:27.5px;top:1029px;width:82.5px;height:38.5px;background:#584f50;"></div>
<div class="t" style="left:34.2px;top:1030.8px;font-size:29px;line-height:35px;color:#fff;font-weight:bold;"><span style="transform:scaleX(0.7015)">27.63%</span></div>
<div class="t" style="left:123.0px;top:1025.6px;font-size:30px;line-height:36px;color:#555152;-webkit-text-stroke:0.42px;"><span style="transform:scaleX(0.7298)">กดดันทางเศรษฐกิจ เช่น การปิดด่านต่อไป</span></div>
<div class="t" style="left:123.0px;top:1058.1px;font-size:30px;line-height:36px;color:#555152;-webkit-text-stroke:0.42px;"><span style="transform:scaleX(0.7369)">อย่างจริงจัง งดการนำเข้าส่งออกในทุกกรณี</span></div>
<div style="left:27.5px;top:1109px;width:82.5px;height:38.5px;background:#584f50;"></div>
<div class="t" style="left:34.2px;top:1110.8px;font-size:29px;line-height:35px;color:#fff;font-weight:bold;"><span style="transform:scaleX(0.7015)">27.10%</span></div>
<div class="t" style="left:123.0px;top:1106.6px;font-size:30px;line-height:36px;color:#555152;-webkit-text-stroke:0.42px;"><span style="transform:scaleX(0.7391)">เปลี่ยนรัฐบาลเพื่อเพิ่มประสิทธิภาพ ในการ</span></div>
<div class="t" style="left:123.0px;top:1139.1px;font-size:30px;line-height:36px;color:#555152;-webkit-text-stroke:0.42px;"><span style="transform:scaleX(0.7148)">แก้ไขปัญหาสถานการณ์ความขัดแย้งระหว่าง</span></div>
<div class="t" style="left:123.0px;top:1171.6px;font-size:30px;line-height:36px;color:#555152;-webkit-text-stroke:0.42px;"><span style="transform:scaleX(0.7342)">ไทย-กัมพูชา</span></div>
<div style="left:27.5px;top:1216.5px;width:82.5px;height:38.5px;background:#584f50;"></div>
<div class="t" style="left:34.2px;top:1218.3px;font-size:29px;line-height:35px;color:#fff;font-weight:bold;"><span style="transform:scaleX(0.7015)">23.97%</span></div>
<div class="t" style="left:123.0px;top:1214.6px;font-size:30px;line-height:36px;color:#555152;-webkit-text-stroke:0.42px;"><span style="transform:scaleX(0.7332)">เพิ่มกำลังทางทหารชายแดนเพื่อป้องกันประเทศ</span></div>
<div style="left:27.5px;top:1272.5px;width:82.5px;height:38.5px;background:#584f50;"></div>
<div class="t" style="left:34.2px;top:1274.3px;font-size:29px;line-height:35px;color:#fff;font-weight:bold;"><span style="transform:scaleX(0.7015)">21.30%</span></div>
<div class="t" style="left:123.0px;top:1269.1px;font-size:30px;line-height:36px;color:#555152;-webkit-text-stroke:0.42px;"><span style="transform:scaleX(0.7428)">กดดัน ฟ้องร้องและประณามกัมพูชา</span></div>
<div class="t" style="left:123.0px;top:1301.1px;font-size:30px;line-height:36px;color:#555152;-webkit-text-stroke:0.42px;"><span style="transform:scaleX(0.7147)">ผ่านกลไกระหว่างประเทศ</span></div>
<div style="left:27.5px;top:1353px;width:82.5px;height:38.5px;background:#584f50;"></div>
<div class="t" style="left:34.2px;top:1354.8px;font-size:29px;line-height:35px;color:#fff;font-weight:bold;"><span style="transform:scaleX(0.7015)">20.00%</span></div>
<div class="t" style="left:123.0px;top:1352.6px;font-size:30px;line-height:36px;color:#555152;-webkit-text-stroke:0.42px;"><span style="transform:scaleX(0.7058)">ไปต่อแบบไหนก็ได้ แต่ต้องไม่เสียดินแดน</span></div>
<div class="t" style="left:123.0px;top:1385.6px;font-size:30px;line-height:36px;color:#555152;-webkit-text-stroke:0.42px;"><span style="transform:scaleX(0.7066)">และไม่เสียเปรียบให้กัมพูชา</span></div>
<div style="left:27.5px;top:1439.5px;width:82.5px;height:38.5px;background:#584f50;"></div>
<div class="t" style="left:34.2px;top:1441.3px;font-size:29px;line-height:35px;color:#fff;font-weight:bold;"><span style="transform:scaleX(0.7015)">19.62%</span></div>
<div class="t" style="left:123.0px;top:1439.1px;font-size:30px;line-height:36px;color:#555152;-webkit-text-stroke:0.42px;"><span style="transform:scaleX(0.7082)">ให้มีประเทศที่สามเป็นตัวกลางในการเจรจา</span></div>
<div class="t" style="left:123.0px;top:1471.6px;font-size:30px;line-height:36px;color:#555152;-webkit-text-stroke:0.42px;"><span style="transform:scaleX(0.7489)">ไกล่เกลี่ยข้อพิพาท</span></div>
<div style="left:618.5px;top:972.5px;width:83px;height:38.5px;background:#584f50;"></div>
<div class="t" style="left:625.5px;top:974.3px;font-size:29px;line-height:35px;color:#fff;font-weight:bold;"><span style="transform:scaleX(0.7015)">16.49%</span></div>
<div class="t" style="left:711.0px;top:973.6px;font-size:30px;line-height:36px;color:#555152;-webkit-text-stroke:0.42px;"><span style="transform:scaleX(0.7123)">รบต่อจนกว่าจะได้ชัยชนะอย่างเบ็ดเสร็จ</span></div>
<div style="left:618.5px;top:1029px;width:83px;height:38.5px;background:#584f50;"></div>
<div class="t" style="left:625.5px;top:1030.8px;font-size:29px;line-height:35px;color:#fff;font-weight:bold;"><span style="transform:scaleX(0.7131)">11.15%</span></div>
<div class="t" style="left:711.0px;top:1028.1px;font-size:30px;line-height:36px;color:#555152;-webkit-text-stroke:0.42px;"><span style="transform:scaleX(0.7146)">ไปต่อแบบไหนก็ได้ แต่ขอเพียงแค่ไม่มีการสู้รบกัน</span></div>
<div style="left:618.5px;top:1080px;width:83px;height:38.5px;background:#584f50;"></div>
<div class="t" style="left:631.0px;top:1081.8px;font-size:29px;line-height:35px;color:#fff;font-weight:bold;"><span style="transform:scaleX(0.7053)">5.19%</span></div>
<div class="t" style="left:711.0px;top:1081.6px;font-size:30px;line-height:36px;color:#555152;-webkit-text-stroke:0.42px;"><span style="transform:scaleX(0.7229)">ใช้กลไกศาลยุติธรรมระหว่างประเทศ (ศาลโลก)</span></div>
<div class="t" style="left:711.0px;top:1113.1px;font-size:30px;line-height:36px;color:#555152;-webkit-text-stroke:0.42px;"><span style="transform:scaleX(0.7408)">ตามข้อเรียกร้องของกัมพูชา</span></div>
<div style="left:618.5px;top:1164px;width:83px;height:38.5px;background:#584f50;"></div>
<div class="t" style="left:631.0px;top:1165.8px;font-size:29px;line-height:35px;color:#fff;font-weight:bold;"><span style="transform:scaleX(0.7053)">2.90%</span></div>
<div class="t" style="left:711.0px;top:1165.6px;font-size:30px;line-height:36px;color:#555152;-webkit-text-stroke:0.42px;"><span style="transform:scaleX(0.7208)">เปิดด่านทั้งหมด เพื่อให้เศรษฐกิจชายแดน</span></div>
<div class="t" style="left:711.0px;top:1197.1px;font-size:30px;line-height:36px;color:#555152;-webkit-text-stroke:0.42px;"><span style="transform:scaleX(0.6979)">เข้าสู่ภาวะปกติ</span></div>
<div style="left:618.5px;top:1251.5px;width:83px;height:38.5px;background:#584f50;"></div>
<div class="t" style="left:631.0px;top:1253.3px;font-size:29px;line-height:35px;color:#fff;font-weight:bold;"><span style="transform:scaleX(0.7053)">2.67%</span></div>
<div class="t" style="left:711.0px;top:1251.6px;font-size:30px;line-height:36px;color:#555152;-webkit-text-stroke:0.42px;"><span style="transform:scaleX(0.7097)">แทรกแซงการเมืองภายในประเทศกัมพูชา</span></div>
<div class="t" style="left:711.0px;top:1284.1px;font-size:30px;line-height:36px;color:#555152;-webkit-text-stroke:0.42px;"><span style="transform:scaleX(0.7247)">เพื่อล้มอำนาจ ฮุน เซน และรัฐบาล ฮุน มาเนต</span></div>
<div style="left:618.5px;top:1337.5px;width:83px;height:38.5px;background:#584f50;"></div>
<div class="t" style="left:631.0px;top:1339.3px;font-size:29px;line-height:35px;color:#fff;font-weight:bold;"><span style="transform:scaleX(0.7053)">2.21%</span></div>
<div class="t" style="left:711.0px;top:1338.1px;font-size:30px;line-height:36px;color:#555152;-webkit-text-stroke:0.42px;"><span style="transform:scaleX(0.7213)">สนับสนุนรัฐบาลปัจจุบันอย่างเต็มที่ ในการ</span></div>
<div class="t" style="left:711.0px;top:1370.1px;font-size:30px;line-height:36px;color:#555152;-webkit-text-stroke:0.42px;"><span style="transform:scaleX(0.7157)">แก้ไขปัญหาสถานการณ์ความขัดแย้งระหว่าง</span></div>
<div class="t" style="left:711.0px;top:1402.1px;font-size:30px;line-height:36px;color:#555152;-webkit-text-stroke:0.42px;"><span style="transform:scaleX(0.7278)">ไทย-กัมพูชา</span></div>
<div style="left:618.5px;top:1452.5px;width:83px;height:38.5px;background:#584f50;"></div>
<div class="t" style="left:631.0px;top:1454.3px;font-size:29px;line-height:35px;color:#fff;font-weight:bold;"><span style="transform:scaleX(0.7053)">0.31%</span></div>
<div class="t" style="left:711.0px;top:1453.1px;font-size:30px;line-height:36px;color:#555152;-webkit-text-stroke:0.42px;"><span style="transform:scaleX(0.6979)">ไม่ตอบ/ไม่สนใจ</span></div>
<div class="t" style="left:1011.0px;top:1490.7px;font-size:21px;line-height:25px;color:#555152;-webkit-text-stroke:0.29px;"><span style="transform:scaleX(0.8269)">*ตอบได้มากกว่า 1 ข้อ</span></div>
<div style="left:9.5px;top:1533.5px;width:1182.5px;height:340px;background:#be9042;border-radius:18px;"></div>
<div style="left:33px;top:1547.5px;width:1137px;height:38px;background:rgba(255,255,255,.17);border-radius:19px;"></div>
<div style="left:32.5px;top:1545.5px;width:40px;height:40px;border-radius:50%;background:#b07d50;"></div>
<div class="t" style="left:39.0px;top:1548.1px;font-size:28px;line-height:34px;color:#fff;font-weight:bold;"><span style="transform:scaleX(0.7191)">04.</span></div>
<div class="t" style="left:79.0px;top:1545.9px;font-size:30.5px;line-height:37px;color:#fff5e0;-webkit-text-stroke:0.43px;"><span style="transform:scaleX(0.7933)">ความคิดเห็นของประชาชนต่อการปฏิบัติของโรงพยาบาล ในการรับผู้ป่วยชาวกัมพูชาเพื่อการรักษาพยาบาล</span></div>
<div style="left:369.5px;top:1615.5px;width:105px;height:49.5px;background:#584f50;"></div>
<div class="t" style="left:378.0px;top:1618.8px;font-size:36px;line-height:43px;color:#fff;font-weight:bold;"><span style="transform:scaleX(0.7207)">51.37%</span></div>
<div class="t" style="left:485.0px;top:1610.2px;font-size:34px;line-height:41px;color:#fff5e0;-webkit-text-stroke:0.48px;"><span style="transform:scaleX(0.7016)">ไม่ควรรับผู้ป่วยชาวกัมพูชาทุกคน ทั้งผู้ที่อาศัยอยู่ในประเทศไทย</span></div>
<div class="t" style="left:485.0px;top:1647.7px;font-size:34px;line-height:41px;color:#fff5e0;-webkit-text-stroke:0.48px;"><span style="transform:scaleX(0.6937)">และขอข้ามแดนมาเพื่อการรักษาพยาบาล</span></div>
<div style="left:344px;top:1717px;width:818px;height:1.2px;background:rgba(80,52,12,.8);"></div>
<div style="left:405.5px;top:1722px;width:1.2px;height:130px;background:rgba(80,52,12,.8);"></div>
<div style="left:988.5px;top:1722px;width:1.2px;height:130px;background:rgba(80,52,12,.8);"></div>
<div style="left:34px;top:1731.5px;width:82.5px;height:39px;background:#584f50;"></div>
<div class="t" style="left:40.8px;top:1733.5px;font-size:29px;line-height:35px;color:#fff;font-weight:bold;"><span style="transform:scaleX(0.7015)">35.81%</span></div>
<div class="t" style="left:31.0px;top:1774.8px;font-size:31px;line-height:37px;color:#fff5e0;-webkit-text-stroke:0.43px;"><span style="transform:scaleX(0.7192)">ควรรับผู้ป่วยชาวกัมพูชา</span></div>
<div class="t" style="left:31.0px;top:1809.8px;font-size:31px;line-height:37px;color:#fff5e0;-webkit-text-stroke:0.43px;"><span style="transform:scaleX(0.6885)">เฉพาะผู้ที่อาศัยอยู่ในประเทศไทยเท่านั้น</span></div>
<div style="left:426.5px;top:1731.5px;width:82.5px;height:39px;background:#584f50;"></div>
<div class="t" style="left:433.2px;top:1733.5px;font-size:29px;line-height:35px;color:#fff;font-weight:bold;"><span style="transform:scaleX(0.7131)">11.45%</span></div>
<div class="t" style="left:426.0px;top:1774.8px;font-size:31px;line-height:37px;color:#fff5e0;-webkit-text-stroke:0.43px;"><span style="transform:scaleX(0.7095)">ควรรับผู้ป่วยชาวกัมพูชาทุกคน ไม่ว่าพวกเขาจะอาศัย</span></div>
<div class="t" style="left:426.0px;top:1809.8px;font-size:31px;line-height:37px;color:#fff5e0;-webkit-text-stroke:0.43px;"><span style="transform:scaleX(0.6978)">อยู่ในประเทศไทยหรือขอข้ามแดนมาเพื่อการรักษาพยาบาล</span></div>
<div style="left:1012.5px;top:1731.5px;width:82.5px;height:39px;background:#584f50;"></div>
<div class="t" style="left:1024.8px;top:1733.5px;font-size:29px;line-height:35px;color:#fff;font-weight:bold;"><span style="transform:scaleX(0.7053)">1.37%</span></div>
<div class="t" style="left:1012.5px;top:1774.8px;font-size:31px;line-height:37px;color:#fff5e0;-webkit-text-stroke:0.43px;"><span style="transform:scaleX(0.6702)">ไม่ตอบ/ไม่สนใจ</span></div>
<svg style="left:140px;top:1590px" width="170" height="180" viewBox="140 1590 170 180">
<ellipse cx="220" cy="1746.5" rx="61" ry="10.5" fill="#e8dcd8"/>
<rect x="162.7" y="1651.6" width="30" height="5" fill="#a8743e"/><rect x="156" y="1661.5" width="43.5" height="5.5" fill="#a8743e"/>
<path d="M187 1663.5 H198.5 V1702" stroke="#ecdcb8" stroke-width="2.6" fill="none"/>
<rect x="222" y="1715.5" width="23" height="6.5" fill="#9a6a3a"/><rect x="226" y="1726" width="17" height="3.2" fill="#ecdcb8"/>
<rect x="257.5" y="1714.6" width="29.5" height="3.8" fill="#9a6a3a"/>
<path d="M202 1698 V1677 Q202 1666 214 1666 H234 Q245 1666 245 1678 V1698 Z" fill="#4dbfa8"/>
<path d="M205 1697.6 H257.5 V1737 H243.5 V1710.5 H205 Z" fill="#4dbfa8"/>
<path d="M257.5 1698.5 H269.5 V1695 Q269.5 1689 276 1689 H278.5 Q284.5 1689 284.5 1695 V1708 Q284.5 1714.7 277 1714.7 H257.5 Z" fill="#fdfaf6"/>
<rect x="224" y="1654" width="15" height="13" fill="#f9d9c8"/>
<ellipse cx="220" cy="1626.6" rx="32" ry="30.4" fill="#2a2a2c"/>
<path d="M229 1619.7 H247 Q254.7 1623 254.7 1640 Q254.7 1658 241 1658 H223 L223.5 1646 L220.7 1638 L227 1630 Z" fill="#f9d9c8"/>
<g stroke="#4a4648" stroke-width="2.2"><path d="M199.5 1707V1752M177 1729.5H222M183.6 1713.6L215.4 1745.4M215.4 1713.6L183.6 1745.4"/></g>
<circle cx="199.5" cy="1729.5" r="24" fill="none" stroke="#3c3a3c" stroke-width="6.4"/><circle cx="199.5" cy="1729.5" r="6.5" fill="#3c3a3c"/>
<rect x="244" y="1745" width="20.6" height="3.4" fill="#8a8486"/>
<g stroke="#f04a38" stroke-width="12.5" stroke-linecap="butt"><path d="M188 1642 L253 1702"/><path d="M253 1642 L188 1699"/></g>
</svg>
<div style="left:0px;top:1858.5px;width:1200px;height:193px;background:#5a5050;"></div>
<div class="t" style="left:14.0px;top:1868.8px;font-size:18px;line-height:22px;color:#f2f0ee;"><span>•</span></div>
<div class="t" style="left:27.5px;top:1868.8px;font-size:18px;line-height:22px;color:#f2f0ee;"><span style="transform:scaleX(0.8786)">ศูนย์สำรวจความคิดเห็น “นิด้าโพล” สำรวจความคิดเห็น เรื่อง “<b style="font-weight:normal;color:#d9a94f">สถานการณ์ไทย-กัมพูชา ไปต่อแบบไหนดี</b>” ระหว่างวันที่ 4-5 ส.ค. 2568 จากประชาชนที่มีอายุ 18 ปี ขึ้นไป</span></div>
<div class="t" style="left:27.5px;top:1898.3px;font-size:18px;line-height:22px;color:#f2f0ee;"><span style="transform:scaleX(0.8902)">กระจายทุกภูมิภาค ระดับการศึกษา อาชีพ และรายได้ ทั่วประเทศ จำนวน 1,310 หน่วยตัวอย่าง สุ่มตัวอย่างแบบหลายขั้นตอน (Multi-stage Sampling) ด้วยวิธีการสัมภาษณ์</span></div>
<div class="t" style="left:27.5px;top:1927.8px;font-size:18px;line-height:22px;color:#f2f0ee;"><span style="transform:scaleX(0.8864)">ทางโทรศัพท์ กำหนดค่าความคลาดเคลื่อนไม่เกิน 0.05 ที่ระดับความเชื่อมั่น ร้อยละ 97.0 สามารถดาวน์โหลดผลสำรวจฉบับเต็มได้ที่ www.nidapoll.nida.ac.th</span></div>
<div style="left:22px;top:1967.5px;width:180px;height:46.5px;background:transparent;border:2px solid #d6d2d2;"></div>
<div style="left:23px;top:1968.5px;width:49px;height:44.5px;background:#fff;"></div>
<svg style="left:27.5px;top:1971px" width="40" height="40" viewBox="0 0 40 40"><circle cx="20" cy="20" r="18.6" fill="#fff" stroke="#5a5556" stroke-width="1.8"/><circle cx="20" cy="20" r="15" fill="none" stroke="#6a6566" stroke-width="2.2" stroke-dasharray="1.6 1.2"/><circle cx="20" cy="20" r="11" fill="none" stroke="#8a8586" stroke-width="1.2"/><circle cx="20" cy="20" r="8" fill="#777273"/><circle cx="20" cy="20" r="4.2" fill="#fff" stroke="#5a5556" stroke-width="1"/><path d="M20 9V31M9 20H31M12.2 12.2L27.8 27.8M27.8 12.2L12.2 27.8" stroke="#fff" stroke-width=".9"/></svg>
<div class="t" style="left:75.0px;top:1971.6px;font-size:30px;line-height:36px;color:#fff;font-weight:bold;font-family:'Liberation Serif',serif;"><span style="transform:scaleX(0.8980)">NIDA Poll</span></div>
<div class="t" style="left:25.0px;top:2018.8px;font-size:12px;line-height:14px;color:#f2f0ee;font-weight:bold;letter-spacing:2px;"><span style="transform:scaleX(0.9665)">โพลแห่งแรกในประเทศไทย</span></div>
<div style="left:213.5px;top:1967.5px;width:1.6px;height:69px;background:#cfcaca;"></div>
<div class="t" style="left:227.3px;top:1970.3px;font-size:13.5px;line-height:16px;color:#f2f0ee;font-weight:bold;"><span style="transform:scaleX(1.0250)">ถูกต้อง</span></div>
<div class="t" style="left:227.3px;top:1997.3px;font-size:13.5px;line-height:16px;color:#f2f0ee;font-weight:bold;"><span style="transform:scaleX(0.9231)">เที่ยงตรง</span></div>
<div class="t" style="left:227.3px;top:2020.8px;font-size:13.5px;line-height:16px;color:#f2f0ee;font-weight:bold;"><span style="transform:scaleX(0.9477)">ด้วยคุณภาพตามหลักวิชาการ</span></div>
<div class="t" style="left:453.0px;top:1980.1px;font-size:20px;line-height:24px;color:#f2f0ee;font-weight:bold;font-style:italic;font-family:'Liberation Serif',serif;"><span style="transform:scaleX(1.0232)">Follow Us</span></div>
<div class="t" style="left:571.0px;top:1968.5px;font-size:13px;line-height:16px;color:#f2f0ee;font-weight:bold;"><span style="transform:scaleX(1.0099)">ติดตามการรายงานผลโพลทุกสัปดาห์</span></div>
<div class="t" style="left:967.0px;top:1963.5px;font-size:13px;line-height:16px;color:#f2f0ee;font-weight:bold;"><span style="transform:scaleX(1.0244)">Tel : 02 727 3594-6</span></div>
<div class="t" style="left:936.0px;top:1988.5px;font-size:13px;line-height:16px;color:#f2f0ee;font-weight:bold;"><span style="transform:scaleX(0.9960)">www.nidapoll.nida.ac.th</span></div>
<div class="t" style="left:953.0px;top:2013.5px;font-size:13px;line-height:16px;color:#f2f0ee;font-weight:bold;"><span style="transform:scaleX(0.9968)">nida_poll@nida.ac.th</span></div>
<div style="left:1096.5px;top:1960px;width:1.5px;height:76px;background:#d9d6d2;"></div>
<div style="left:560.7px;top:1997.5px;width:42px;height:42px;border-radius:50%;background:#b98e3f;"></div>
<div style="left:615.7px;top:1997.5px;width:42px;height:42px;border-radius:50%;background:#b98e3f;"></div>
<div style="left:670.7px;top:1997.5px;width:42px;height:42px;border-radius:50%;background:#b98e3f;"></div>
<div style="left:726.7px;top:1997.5px;width:42px;height:42px;border-radius:50%;background:#b98e3f;"></div>
<div style="left:802.3px;top:1997.5px;width:42px;height:42px;border-radius:50%;background:#b98e3f;"></div>
<svg style="left:560.7px;top:1997.5px" width="42" height="42" viewBox="0 0 42 42"><path d="M24.6 42 V25.5 H29.6 L30.4 19.6 H24.6 V16 Q24.6 13.4 27.6 13.4 H30.6 V8.3 Q28.6 8 26.2 8 Q18.8 8 18.8 15.4 V19.6 H13.8 V25.5 H18.8 V42 Z" fill="#fbeed6"/></svg>
<svg style="left:615.7px;top:1997.5px" width="42" height="42" viewBox="0 0 42 42"><rect x="7.5" y="12" width="27" height="18.5" rx="4.5" fill="#fbeed6"/><path d="M18.3 17.2 L25 21.2 L18.3 25.2 Z" fill="#b98e3f"/></svg>
<svg style="left:670.7px;top:1997.5px" width="42" height="42" viewBox="0 0 42 42"><rect x="9.5" y="9.5" width="23" height="23" rx="5.5" fill="none" stroke="#fbeed6" stroke-width="2.6"/><circle cx="21" cy="21" r="5.3" fill="none" stroke="#fbeed6" stroke-width="2.6"/><circle cx="27.6" cy="14.4" r="1.5" fill="#fbeed6"/></svg>
<svg style="left:726.7px;top:1997.5px" width="42" height="42" viewBox="0 0 42 42"><g fill="none" stroke="#fbeed6"><path d="M11.5 10.5 H16.3 L30.5 31.5 H25.7 Z" stroke-width="1.8"/><path d="M30 10.5 L22.2 19.4 M19.6 22.6 L11.8 31.5" stroke-width="2"/></g></svg>
<svg style="left:802.3px;top:1997.5px" width="42" height="42" viewBox="0 0 42 42"><path d="M22.2 8.5 H26.4 Q26.9 13.2 31.6 13.8 V18 Q28.6 17.9 26.4 16.4 V25.6 Q26.4 32.6 19.3 32.6 Q12.6 32.2 12.6 25.8 Q13 19.4 20.2 19.5 V23.8 Q16.8 23.6 16.8 25.9 Q16.9 28.3 19.4 28.4 Q22.2 28.3 22.2 25.2 Z" fill="#fbeed6"/></svg>
<div class="t" style="left:778.5px;top:2002.3px;font-size:25px;line-height:30px;color:#f2f0ee;font-weight:bold;"><span style="transform:scaleX(0.8898)">+</span></div>
<div style="left:1110px;top:1959px;width:76px;height:76px;background:#fff;"></div>
<svg style="left:1114px;top:1963px" width="67.9" height="67.9" viewBox="0 0 29 29" shape-rendering="crispEdges"><path d="M0 0h1v1h-1zM0 1h1v1h-1zM0 2h1v1h-1zM0 3h1v1h-1zM0 4h1v1h-1zM0 5h1v1h-1zM0 6h1v1h-1zM0 8h1v1h-1zM0 9h1v1h-1zM0 11h1v1h-1zM0 13h1v1h-1zM0 14h1v1h-1zM0 16h1v1h-1zM0 17h1v1h-1zM0 18h1v1h-1zM0 19h1v1h-1zM0 20h1v1h-1zM0 22h1v1h-1zM0 23h1v1h-1zM0 24h1v1h-1zM0 25h1v1h-1zM0 26h1v1h-1zM0 27h1v1h-1zM0 28h1v1h-1zM1 0h1v1h-1zM1 6h1v1h-1zM1 9h1v1h-1zM1 10h1v1h-1zM1 14h1v1h-1zM1 16h1v1h-1zM1 18h1v1h-1zM1 19h1v1h-1zM1 20h1v1h-1zM1 22h1v1h-1zM1 28h1v1h-1zM2 0h1v1h-1zM2 2h1v1h-1zM2 3h1v1h-1zM2 4h1v1h-1zM2 6h1v1h-1zM2 8h1v1h-1zM2 10h1v1h-1zM2 13h1v1h-1zM2 15h1v1h-1zM2 16h1v1h-1zM2 17h1v1h-1zM2 19h1v1h-1zM2 20h1v1h-1zM2 22h1v1h-1zM2 24h1v1h-1zM2 25h1v1h-1zM2 26h1v1h-1zM2 28h1v1h-1zM3 0h1v1h-1zM3 2h1v1h-1zM3 3h1v1h-1zM3 4h1v1h-1zM3 6h1v1h-1zM3 9h1v1h-1zM3 10h1v1h-1zM3 13h1v1h-1zM3 18h1v1h-1zM3 20h1v1h-1zM3 22h1v1h-1zM3 24h1v1h-1zM3 25h1v1h-1zM3 26h1v1h-1zM3 28h1v1h-1zM4 0h1v1h-1zM4 2h1v1h-1zM4 3h1v1h-1zM4 4h1v1h-1zM4 6h1v1h-1zM4 8h1v1h-1zM4 10h1v1h-1zM4 11h1v1h-1zM4 12h1v1h-1zM4 17h1v1h-1zM4 22h1v1h-1zM4 24h1v1h-1zM4 25h1v1h-1zM4 26h1v1h-1zM4 28h1v1h-1zM5 0h1v1h-1zM5 6h1v1h-1zM5 8h1v1h-1zM5 11h1v1h-1zM5 13h1v1h-1zM5 18h1v1h-1zM5 19h1v1h-1zM5 22h1v1h-1zM5 28h1v1h-1zM6 0h1v1h-1zM6 1h1v1h-1zM6 2h1v1h-1zM6 3h1v1h-1zM6 4h1v1h-1zM6 5h1v1h-1zM6 6h1v1h-1zM6 8h1v1h-1zM6 9h1v1h-1zM6 10h1v1h-1zM6 11h1v1h-1zM6 12h1v1h-1zM6 14h1v1h-1zM6 15h1v1h-1zM6 16h1v1h-1zM6 18h1v1h-1zM6 19h1v1h-1zM6 22h1v1h-1zM6 23h1v1h-1zM6 24h1v1h-1zM6 25h1v1h-1zM6 26h1v1h-1zM6 27h1v1h-1zM6 28h1v1h-1zM7 11h1v1h-1zM7 12h1v1h-1zM7 13h1v1h-1zM7 16h1v1h-1zM7 17h1v1h-1zM7 18h1v1h-1zM7 19h1v1h-1zM7 20h1v1h-1zM8 1h1v1h-1zM8 2h1v1h-1zM8 3h1v1h-1zM8 4h1v1h-1zM8 11h1v1h-1zM8 16h1v1h-1zM8 17h1v1h-1zM8 18h1v1h-1zM8 20h1v1h-1zM8 21h1v1h-1zM8 22h1v1h-1zM8 23h1v1h-1zM8 24h1v1h-1zM8 25h1v1h-1zM8 26h1v1h-1zM8 27h1v1h-1zM8 28h1v1h-1zM9 0h1v1h-1zM9 1h1v1h-1zM9 4h1v1h-1zM9 5h1v1h-1zM9 6h1v1h-1zM9 7h1v1h-1zM9 8h1v1h-1zM9 11h1v1h-1zM9 12h1v1h-1zM9 13h1v1h-1zM9 14h1v1h-1zM9 15h1v1h-1zM9 16h1v1h-1zM9 18h1v1h-1zM9 19h1v1h-1zM9 22h1v1h-1zM9 24h1v1h-1zM10 0h1v1h-1zM10 1h1v1h-1zM10 2h1v1h-1zM10 6h1v1h-1zM10 7h1v1h-1zM10 14h1v1h-1zM10 16h1v1h-1zM10 17h1v1h-1zM10 18h1v1h-1zM10 19h1v1h-1zM10 20h1v1h-1zM10 23h1v1h-1zM10 27h1v1h-1zM10 28h1v1h-1zM11 0h1v1h-1zM11 1h1v1h-1zM11 2h1v1h-1zM11 6h1v1h-1zM11 9h1v1h-1zM11 14h1v1h-1zM11 15h1v1h-1zM11 17h1v1h-1zM11 20h1v1h-1zM11 21h1v1h-1zM11 24h1v1h-1zM11 25h1v1h-1zM11 26h1v1h-1zM12 0h1v1h-1zM12 4h1v1h-1zM12 6h1v1h-1zM12 7h1v1h-1zM12 12h1v1h-1zM12 15h1v1h-1zM12 16h1v1h-1zM12 17h1v1h-1zM12 18h1v1h-1zM12 20h1v1h-1zM12 21h1v1h-1zM12 22h1v1h-1zM12 24h1v1h-1zM12 25h1v1h-1zM12 28h1v1h-1zM13 4h1v1h-1zM13 5h1v1h-1zM13 6h1v1h-1zM13 7h1v1h-1zM13 9h1v1h-1zM13 10h1v1h-1zM13 13h1v1h-1zM13 17h1v1h-1zM13 19h1v1h-1zM13 20h1v1h-1zM13 26h1v1h-1zM14 2h1v1h-1zM14 4h1v1h-1zM14 9h1v1h-1zM14 13h1v1h-1zM14 14h1v1h-1zM14 15h1v1h-1zM14 16h1v1h-1zM14 17h1v1h-1zM14 18h1v1h-1zM14 22h1v1h-1zM14 25h1v1h-1zM14 28h1v1h-1zM15 1h1v1h-1zM15 2h1v1h-1zM15 5h1v1h-1zM15 6h1v1h-1zM15 8h1v1h-1zM15 9h1v1h-1zM15 10h1v1h-1zM15 12h1v1h-1zM15 14h1v1h-1zM15 15h1v1h-1zM15 16h1v1h-1zM15 19h1v1h-1zM15 23h1v1h-1zM15 24h1v1h-1zM15 25h1v1h-1zM15 27h1v1h-1zM15 28h1v1h-1zM16 0h1v1h-1zM16 3h1v1h-1zM16 4h1v1h-1zM16 8h1v1h-1zM16 9h1v1h-1zM16 11h1v1h-1zM16 12h1v1h-1zM16 16h1v1h-1zM16 18h1v1h-1zM16 20h1v1h-1zM16 21h1v1h-1zM16 24h1v1h-1zM16 25h1v1h-1zM16 27h1v1h-1zM16 28h1v1h-1zM17 0h1v1h-1zM17 1h1v1h-1zM17 2h1v1h-1zM17 3h1v1h-1zM17 4h1v1h-1zM17 6h1v1h-1zM17 8h1v1h-1zM17 9h1v1h-1zM17 10h1v1h-1zM17 11h1v1h-1zM17 12h1v1h-1zM17 15h1v1h-1zM17 16h1v1h-1zM17 18h1v1h-1zM17 20h1v1h-1zM17 21h1v1h-1zM17 23h1v1h-1zM17 27h1v1h-1zM18 2h1v1h-1zM18 3h1v1h-1zM18 4h1v1h-1zM18 5h1v1h-1zM18 6h1v1h-1zM18 8h1v1h-1zM18 9h1v1h-1zM18 10h1v1h-1zM18 14h1v1h-1zM18 15h1v1h-1zM18 16h1v1h-1zM18 17h1v1h-1zM18 18h1v1h-1zM18 19h1v1h-1zM18 20h1v1h-1zM18 24h1v1h-1zM18 26h1v1h-1zM18 27h1v1h-1zM18 28h1v1h-1zM19 0h1v1h-1zM19 1h1v1h-1zM19 3h1v1h-1zM19 5h1v1h-1zM19 6h1v1h-1zM19 7h1v1h-1zM19 8h1v1h-1zM19 9h1v1h-1zM19 10h1v1h-1zM19 11h1v1h-1zM19 12h1v1h-1zM19 19h1v1h-1zM19 20h1v1h-1zM19 22h1v1h-1zM19 25h1v1h-1zM20 2h1v1h-1zM20 12h1v1h-1zM20 13h1v1h-1zM20 14h1v1h-1zM20 15h1v1h-1zM20 16h1v1h-1zM20 20h1v1h-1zM20 21h1v1h-1zM20 22h1v1h-1zM20 23h1v1h-1zM20 24h1v1h-1zM21 8h1v1h-1zM21 10h1v1h-1zM21 11h1v1h-1zM21 12h1v1h-1zM21 14h1v1h-1zM21 17h1v1h-1zM21 18h1v1h-1zM21 19h1v1h-1zM21 20h1v1h-1zM21 24h1v1h-1zM21 25h1v1h-1zM21 26h1v1h-1zM21 28h1v1h-1zM22 0h1v1h-1zM22 1h1v1h-1zM22 2h1v1h-1zM22 3h1v1h-1zM22 4h1v1h-1zM22 5h1v1h-1zM22 6h1v1h-1zM22 9h1v1h-1zM22 10h1v1h-1zM22 11h1v1h-1zM22 15h1v1h-1zM22 17h1v1h-1zM22 18h1v1h-1zM22 19h1v1h-1zM22 20h1v1h-1zM22 22h1v1h-1zM22 24h1v1h-1zM22 25h1v1h-1zM22 28h1v1h-1zM23 0h1v1h-1zM23 6h1v1h-1zM23 8h1v1h-1zM23 9h1v1h-1zM23 11h1v1h-1zM23 13h1v1h-1zM23 16h1v1h-1zM23 20h1v1h-1zM23 24h1v1h-1zM23 25h1v1h-1zM23 26h1v1h-1zM23 27h1v1h-1zM23 28h1v1h-1zM24 0h1v1h-1zM24 2h1v1h-1zM24 3h1v1h-1zM24 4h1v1h-1zM24 6h1v1h-1zM24 8h1v1h-1zM24 9h1v1h-1zM24 10h1v1h-1zM24 12h1v1h-1zM24 15h1v1h-1zM24 19h1v1h-1zM24 20h1v1h-1zM24 21h1v1h-1zM24 22h1v1h-1zM24 23h1v1h-1zM24 24h1v1h-1zM24 25h1v1h-1zM24 26h1v1h-1zM24 27h1v1h-1zM24 28h1v1h-1zM25 0h1v1h-1zM25 2h1v1h-1zM25 3h1v1h-1zM25 4h1v1h-1zM25 6h1v1h-1zM25 9h1v1h-1zM25 11h1v1h-1zM25 12h1v1h-1zM25 14h1v1h-1zM25 15h1v1h-1zM25 24h1v1h-1zM25 26h1v1h-1zM26 0h1v1h-1zM26 2h1v1h-1zM26 3h1v1h-1zM26 4h1v1h-1zM26 6h1v1h-1zM26 8h1v1h-1zM26 9h1v1h-1zM26 11h1v1h-1zM26 12h1v1h-1zM26 13h1v1h-1zM26 14h1v1h-1zM26 17h1v1h-1zM26 19h1v1h-1zM26 21h1v1h-1zM26 22h1v1h-1zM26 23h1v1h-1zM26 24h1v1h-1zM26 26h1v1h-1zM26 27h1v1h-1zM27 0h1v1h-1zM27 6h1v1h-1zM27 9h1v1h-1zM27 10h1v1h-1zM27 11h1v1h-1zM27 12h1v1h-1zM27 13h1v1h-1zM27 14h1v1h-1zM27 15h1v1h-1zM27 16h1v1h-1zM27 20h1v1h-1zM27 21h1v1h-1zM27 23h1v1h-1zM27 24h1v1h-1zM27 25h1v1h-1zM27 26h1v1h-1zM27 28h1v1h-1zM28 0h1v1h-1zM28 1h1v1h-1zM28 2h1v1h-1zM28 3h1v1h-1zM28 4h1v1h-1zM28 5h1v1h-1zM28 6h1v1h-1zM28 11h1v1h-1zM28 12h1v1h-1zM28 13h1v1h-1zM28 14h1v1h-1zM28 15h1v1h-1zM28 19h1v1h-1zM28 20h1v1h-1zM28 23h1v1h-1zM28 25h1v1h-1zM28 26h1v1h-1z" fill="#2b2728"/></svg>
</div></body></html>
